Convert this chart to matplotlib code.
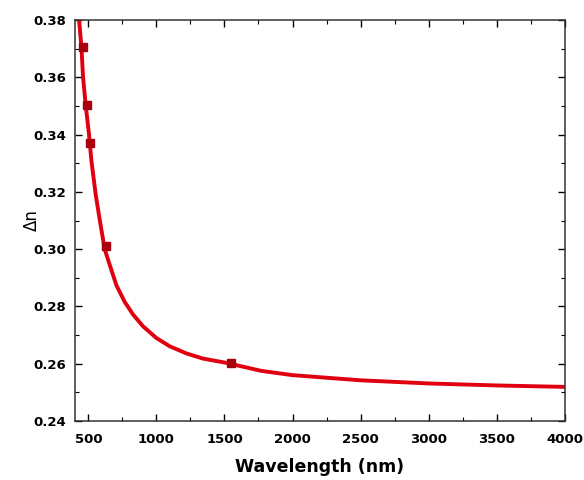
import numpy as np
import matplotlib
matplotlib.use('Agg')
import matplotlib.pyplot as plt
from matplotlib.ticker import MultipleLocator

plt.rcParams['font.family'] = ['DejaVu Sans']

# measured points
wl_pts = [457, 488, 514, 633, 1550]
dn_pts = [0.3705, 0.3503, 0.3372, 0.3011, 0.2603]

# fitted curve
wl_fit = [432, 449, 461, 481, 505, 522, 554, 588, 620, 657, 706, 767, 828,
          901, 999, 1097, 1220, 1341, 1513, 1770, 2000, 2500, 3000, 3500, 4000]
dn_fit = [0.380, 0.3707, 0.3601, 0.350, 0.340, 0.3311, 0.319, 0.309, 0.300,
          0.2945, 0.2874, 0.2816, 0.2772, 0.2731, 0.2690, 0.2661, 0.2636,
          0.2618, 0.2603, 0.2575, 0.2560, 0.2542, 0.2531, 0.2524, 0.2519]

fig = plt.figure(figsize=(5.84, 4.8), dpi=100)
ax = fig.add_axes([0.128, 0.123, 0.839, 0.835])

ax.plot(wl_fit, dn_fit, color='#e0000f', lw=2.8, zorder=2, solid_joinstyle='round')
ax.plot(wl_pts, dn_pts, 's', color='#a8000c', ms=5.5, zorder=3)

ax.set_xlim(400, 4000)
ax.set_ylim(0.24, 0.38)
ax.set_xticks([500, 1000, 1500, 2000, 2500, 3000, 3500, 4000])
ax.xaxis.set_minor_locator(MultipleLocator(250))
ax.yaxis.set_major_locator(MultipleLocator(0.02))
ax.yaxis.set_minor_locator(MultipleLocator(0.01))
ax.yaxis.set_major_formatter(plt.FormatStrFormatter('%.2f'))

ax.tick_params(which='both', direction='in', top=True, right=True)
ax.tick_params(which='major', length=5, width=1)
ax.tick_params(which='minor', length=3, width=0.8)
ax.tick_params(axis='x', which='major', pad=9)
ax.tick_params(axis='y', which='major', pad=6)
for lab in ax.get_xticklabels() + ax.get_yticklabels():
    lab.set_fontweight('bold')
    lab.set_fontsize(9.5)

for s in ax.spines.values():
    s.set_linewidth(1.1)
    s.set_color('#333333')

ax.set_xlabel('Wavelength (nm)', fontsize=12.5, fontweight='bold', labelpad=8)
ax.set_ylabel('Δn', fontsize=12)
ax.yaxis.set_label_coords(-0.07, 0.5)

fig.savefig('out.png', dpi=100)
